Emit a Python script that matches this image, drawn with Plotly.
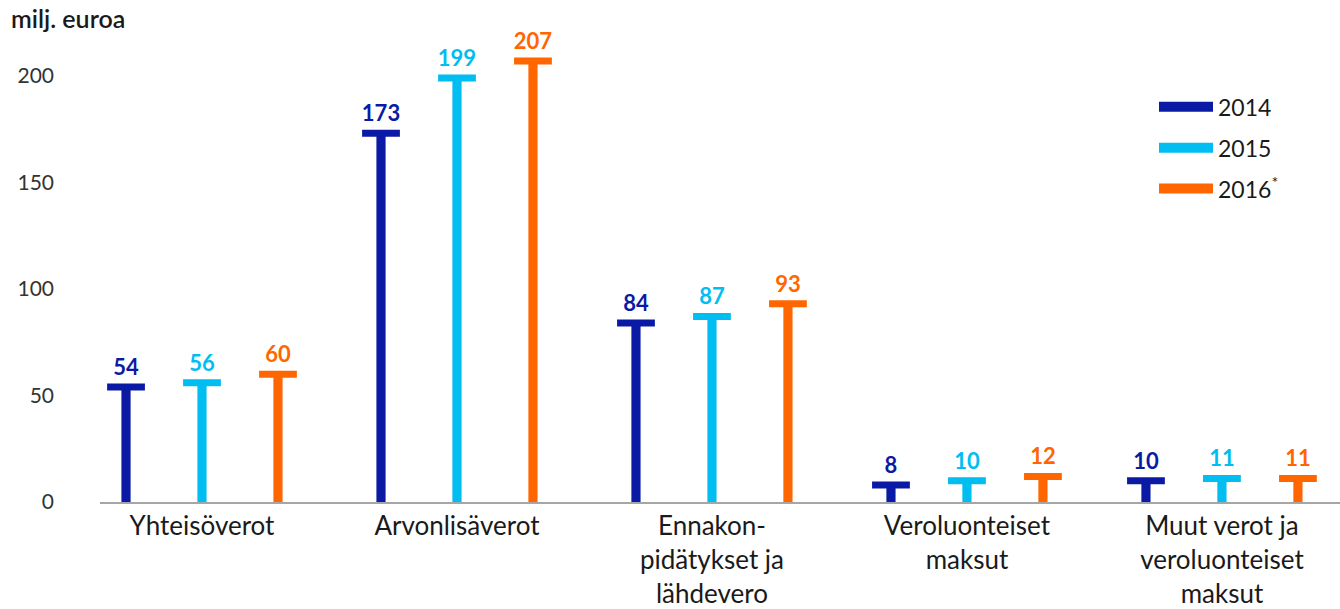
import plotly.graph_objects as go

categories = ["Yhteisöverot", "Arvonlisäverot", "Ennakon-<br>pidätykset ja<br>lähdevero",
              "Veroluonteiset<br>maksut", "Muut verot ja<br>veroluonteiset<br>maksut"]
years = ["2014", "2015", "2016<sup>*</sup>"]
v2014 = [54, 173, 84, 8, 10]
v2015 = [56, 199, 87, 10, 11]
v2016 = [60, 207, 93, 12, 11]
y_ticks = [0, 50, 100, 150, 200]

series = [v2014, v2015, v2016]
colors = ["#0a1aa5", "#00bdf2", "#ff6600"]
offsets = [-0.298, 0.0, 0.298]
FONT = "Lato"

fig = go.Figure()
for name, vals, col, off in zip(years, series, colors, offsets):
    xs = [i + off for i in range(len(categories))]
    # stems
    fig.add_trace(go.Bar(x=xs, y=vals, width=0.036, marker=dict(color=col, line=dict(width=0)),
                         showlegend=False, hoverinfo="skip"))
    # caps
    fig.add_trace(go.Scatter(x=xs, y=vals, mode="markers", showlegend=False, hoverinfo="skip",
                             cliponaxis=False,
                             marker=dict(symbol="line-ew", size=27, color=col,
                                         line=dict(color=col, width=7))))
    # value labels
    fig.add_trace(go.Scatter(x=xs, y=vals, mode="markers+text", text=[str(v) for v in vals],
                             textposition="top center", showlegend=False, hoverinfo="skip",
                             cliponaxis=False,
                             marker=dict(size=9, opacity=0),
                             textfont=dict(family=FONT, size=22, color=col, weight="bold")))
    # legend entry
    fig.add_trace(go.Scatter(x=[None], y=[None], mode="lines", name=name, legendgroup=name,
                             line=dict(color=col, width=11)))

fig.update_layout(
    width=1340, height=609,
    paper_bgcolor="white", plot_bgcolor="white",
    margin=dict(l=100, r=0, t=40, b=104),
    barmode="overlay",
    font=dict(family=FONT, color="#1a1a1a"),
    showlegend=True,
    legend=dict(x=0.85, y=0.902, xanchor="left", yanchor="top", font=dict(size=23, color="#1a1a1a"),
                itemwidth=54, tracegroupgap=8, bgcolor="rgba(0,0,0,0)"),
    xaxis=dict(range=[-0.4, 4.463], tickmode="array", tickvals=list(range(len(categories))),
               ticktext=categories, showgrid=False, zeroline=False, showline=True,
               linecolor="#a6a6a6", linewidth=2, ticks="", tickfont=dict(size=26, color="#1a1a1a")),
    yaxis=dict(range=[0, 216.8], tickmode="array", tickvals=y_ticks, showgrid=False, zeroline=False,
               showline=False, ticks="", ticklabelstandoff=45, tickfont=dict(size=21, color="#333333")),
    annotations=[dict(text="milj. euroa", xref="paper", yref="paper", x=-0.073, y=1.0, yshift=22,
                      xanchor="left", yanchor="middle", showarrow=False,
                      font=dict(size=25, color="#1a1a1a", family=FONT, weight=600))],
)

fig.write_html("out.html", config={"displayModeBar": False},
               post_script="document.body.style.margin='0';")
